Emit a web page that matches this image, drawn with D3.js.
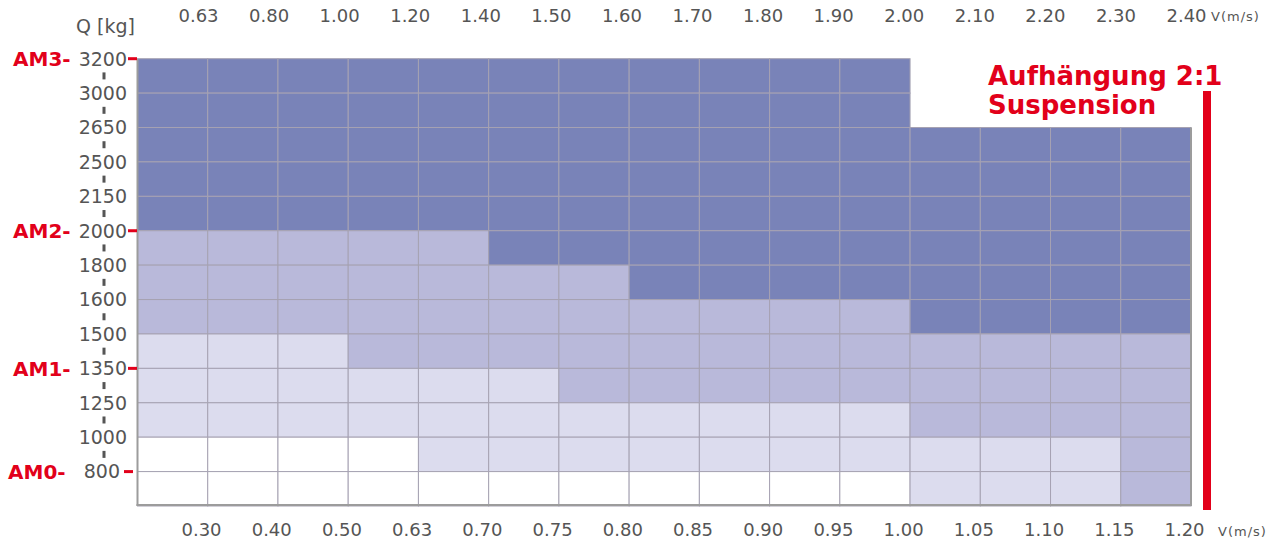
<!DOCTYPE html>
<html>
<head>
<meta charset="utf-8">
<script src="https://cdn.jsdelivr.net/npm/d3@7"></script>
<style>
    body { margin: 0; background: #fff; }
    svg { display: block; font-family: "DejaVu Sans", Verdana, sans-serif; }
</style>
</head>
<body>
<svg id="chart" width="1282" height="541"></svg>
<script>
// ---------------------------------------------
// DATA
// ---------------------------------------------
// speed columns (top row = 2:1 speeds, bottom row = 1:1 speeds)
const topSpeeds = ["0.63", "0.80", "1.00", "1.20", "1.40", "1.50", "1.60", "1.70", "1.80", "1.90", "2.00", "2.10", "2.20", "2.30", "2.40"];
const bottomSpeeds = ["0.30", "0.40", "0.50", "0.63", "0.70", "0.75", "0.80", "0.85", "0.90", "0.95", "1.00", "1.05", "1.10", "1.15", "1.20"];

// load rows Q [kg], top to bottom
const loads = ["3200", "3000", "2650", "2500", "2150", "2000", "1800", "1600", "1500", "1350", "1250", "1000", "800"];

// machine classes marked on the load axis
const machineClasses = [
    { name: "AM3", load: "3200" },
    { name: "AM2", load: "2000" },
    { name: "AM1", load: "1350" },
    { name: "AM0", load: "800" }
];

// class per cell: one array per speed column, one entry per load row
// 3 = AM3, 2 = AM2, 1 = AM1, 0 = AM0, null = not available
const driveClass = [
    [3, 3, 3, 3, 3, 2, 2, 2, 1, 1, 1, 0, 0],
    [3, 3, 3, 3, 3, 2, 2, 2, 1, 1, 1, 0, 0],
    [3, 3, 3, 3, 3, 2, 2, 2, 1, 1, 1, 0, 0],
    [3, 3, 3, 3, 3, 2, 2, 2, 2, 1, 1, 0, 0],
    [3, 3, 3, 3, 3, 2, 2, 2, 2, 1, 1, 1, 0],
    [3, 3, 3, 3, 3, 3, 2, 2, 2, 1, 1, 1, 0],
    [3, 3, 3, 3, 3, 3, 2, 2, 2, 2, 1, 1, 0],
    [3, 3, 3, 3, 3, 3, 3, 2, 2, 2, 1, 1, 0],
    [3, 3, 3, 3, 3, 3, 3, 2, 2, 2, 1, 1, 0],
    [3, 3, 3, 3, 3, 3, 3, 2, 2, 2, 1, 1, 0],
    [3, 3, 3, 3, 3, 3, 3, 2, 2, 2, 1, 1, 0],
    [null, null, 3, 3, 3, 3, 3, 3, 2, 2, 2, 1, 1],
    [null, null, 3, 3, 3, 3, 3, 3, 2, 2, 2, 1, 1],
    [null, null, 3, 3, 3, 3, 3, 3, 2, 2, 2, 1, 1],
    [null, null, 3, 3, 3, 3, 3, 3, 2, 2, 2, 2, 2]
];

const suspensionTitle = ["Aufhängung 2:1", "Suspension"];

// ---------------------------------------------
// SETUP
// ---------------------------------------------
const svg = d3.select("#chart");
const red = "#e2001a";
const gray = "#555";

// cell colors per class
const classColor = d3.scaleOrdinal()
    .domain([0, 1, 2, 3])
    .range(["#ffffff", "#dcdcee", "#b9b9da", "#7983b8"]);

// grid scales
const x = d3.scaleBand().domain(bottomSpeeds).range([137.5, 1191]);
const y = d3.scaleBand().domain(loads).range([58.7, 506]);

// label scales (labels sit a bit left of the column edges)
const xTop = d3.scalePoint().domain(topSpeeds).range([198, 1186]);
const xBottom = d3.scalePoint().domain(bottomSpeeds).range([201, 1184]);

// flatten cells
const cells = [];
driveClass.forEach((col, i) => {
    col.forEach((c, j) => {
        if (c !== null) cells.push({ speed: bottomSpeeds[i], load: loads[j], cls: c });
    });
});

// ---------------------------------------------
// CELLS + GRID
// ---------------------------------------------
svg.append("g")
    .selectAll("rect")
    .data(cells)
    .join("rect")
    .attr("x", d => x(d.speed))
    .attr("y", d => y(d.load))
    .attr("width", x.bandwidth())
    .attr("height", y.bandwidth())
    .attr("fill", d => classColor(d.cls))
    .attr("stroke", "#a6a2b2")
    .attr("stroke-width", 1);

// frame: left, bottom, right
const frame = svg.append("g").attr("stroke", "#9c9c9c").attr("stroke-width", 2);
frame.append("line")
    .attr("x1", x.range()[0]).attr("x2", x.range()[0])
    .attr("y1", y.range()[0]).attr("y2", y.range()[1]);
frame.append("line")
    .attr("x1", x.range()[0] - 1).attr("x2", x.range()[1] + 1)
    .attr("y1", y.range()[1] - 1).attr("y2", y.range()[1] - 1);
frame.append("line")
    .attr("x1", x.range()[1]).attr("x2", x.range()[1])
    .attr("y1", y(loads[2])).attr("y2", y.range()[1]);

// ---------------------------------------------
// LOAD AXIS (left)
// ---------------------------------------------
// small gray dashes between the load labels
svg.append("g")
    .selectAll("rect")
    .data(loads.slice(0, -1))
    .join("rect")
    .attr("x", 102.5)
    .attr("y", d => y(d) + y.bandwidth() / 2 - 3.5)
    .attr("width", 3)
    .attr("height", 7)
    .attr("fill", gray);

svg.append("g")
    .selectAll("text")
    .data(loads)
    .join("text")
    .attr("x", d => d === "800" ? 120 : 127)
    .attr("y", d => y(d))
    .attr("dy", "0.36em")
    .attr("text-anchor", "end")
    .attr("font-size", 19)
    .attr("fill", gray)
    .text(d => d);

// red class ticks + labels
const classG = svg.append("g");
classG.selectAll("rect")
    .data(machineClasses)
    .join("rect")
    .attr("x", d => d.load === "800" ? 124 : 128)
    .attr("y", d => y(d.load) - 1.5)
    .attr("width", 9)
    .attr("height", 3)
    .attr("fill", red);

classG.selectAll("text")
    .data(machineClasses)
    .join("text")
    .attr("x", d => d.load === "800" ? 8 : 13)
    .attr("y", d => y(d.load))
    .attr("dy", "0.36em")
    .attr("font-size", 20)
    .attr("font-weight", "bold")
    .attr("fill", red)
    .text(d => d.name + "-");

svg.append("text")
    .attr("x", 135)
    .attr("y", 33)
    .attr("text-anchor", "end")
    .attr("font-size", 19)
    .attr("fill", gray)
    .text("Q [kg]");

// ---------------------------------------------
// SPEED AXES (top and bottom)
// ---------------------------------------------
const topAxis = svg.append("g")
    .attr("transform", "translate(0,22)")
    .call(d3.axisTop(xTop).tickSize(0).tickPadding(0));

const bottomAxis = svg.append("g")
    .attr("transform", "translate(0,536)")
    .call(d3.axisBottom(xBottom).tickSize(0).tickPadding(0));

[topAxis, bottomAxis].forEach(ax => {
    ax.select(".domain").remove();
    ax.attr("font-family", null).attr("font-size", null);
    ax.selectAll("text")
        .attr("y", 0)
        .attr("dy", 0)
        .attr("font-size", 18)
        .attr("fill", gray);
});

// unit labels
svg.append("text").attr("x", 1211).attr("y", 21)
    .attr("font-size", 13).attr("letter-spacing", 1).attr("fill", gray).text("V(m/s)");
svg.append("text").attr("x", 1218).attr("y", 536)
    .attr("font-size", 13).attr("letter-spacing", 1).attr("fill", gray).text("V(m/s)");

// ---------------------------------------------
// SUSPENSION MARKER
// ---------------------------------------------
svg.append("rect")
    .attr("x", 1203)
    .attr("y", 91)
    .attr("width", 8)
    .attr("height", 419)
    .attr("fill", red);

svg.append("g")
    .selectAll("text")
    .data(suspensionTitle)
    .join("text")
    .attr("x", 988)
    .attr("y", (d, i) => 85 + i * 29)
    .attr("font-size", 26)
    .attr("font-weight", "bold")
    .attr("fill", red)
    .text(d => d);
</script>
</body>
</html>
